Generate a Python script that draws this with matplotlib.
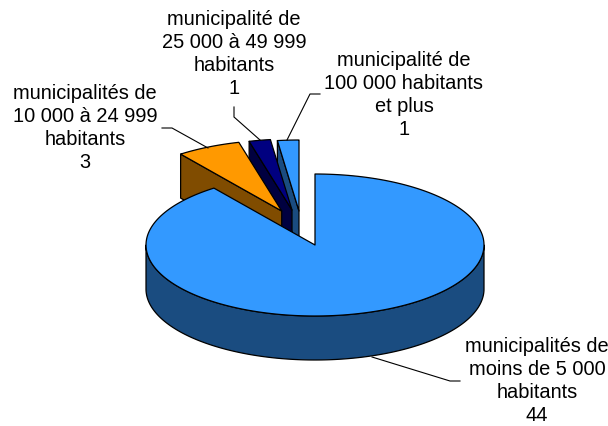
import numpy as np
import matplotlib
matplotlib.use("Agg")
import matplotlib.pyplot as plt
from matplotlib.patches import Polygon

categories = ["municipalités de\nmoins de 5 000\nhabitants",
              "municipalités de\n10 000 à 24 999\nhabitants",
              "municipalité de\n25 000 à 49 999\nhabitants",
              "municipalité de\n100 000 habitants\net plus"]
values = [44, 3, 1, 1]

top_colors = ["#3399FF", "#FF9900", "#000080", "#3399FF"]
side_colors = ["#1A4C80", "#804C00", "#000040", "#1A4C80"]
apexes = [(315, 245), (281.7, 211), (292, 210), (299, 211)]
label_pos = [(537, 381), (85, 128), (234, 54), (404, 95)]
leaders = [[(460, 381), (450, 381), (372, 357)],
           [(162, 128), (172, 128), (208, 148)],
           [(234, 107), (234, 117), (260, 140)],
           [(320, 94), (310, 94), (287, 140)]]

RX, RY, DEPTH = 169, 71, 44
EDGE = dict(edgecolor="black", linewidth=0.9, joinstyle="round")

fig = plt.figure(figsize=(6.08, 4.26), dpi=100)
ax = fig.add_axes([0, 0, 1, 1])
ax.set_xlim(0, 608)
ax.set_ylim(426, 0)
ax.axis("off")


def arc(apex, a0, a1, dy=0.0):
    t = np.radians(np.linspace(a0, a1, 200))
    return np.column_stack([apex[0] + RX * np.cos(t), apex[1] + dy - RY * np.sin(t)])


# angles: clockwise from 12 o'clock
fractions = np.array(values, dtype=float) / sum(values)
ends = 90 - 360 * np.cumsum(fractions)
starts = np.concatenate([[90], ends[:-1]])

# painter's order: back slices first, the large slice last
order = [3, 2, 1, 0]
for z, i in enumerate(order, start=2):
    apex = apexes[i]
    a0, a1 = starts[i], ends[i]
    if i == 0:
        # outer wall of the front half
        upper = arc(apex, -180, 0)
        lower = arc(apex, 0, -180, DEPTH)
        ax.add_patch(Polygon(np.vstack([upper, lower]), closed=True,
                             facecolor=side_colors[i], zorder=z, **EDGE))
    else:
        # left cut face, visible for the exploded slices
        p = arc(apex, a0, a0)[0]
        face = [p, apex, (apex[0], apex[1] + DEPTH), (p[0], p[1] + DEPTH)]
        ax.add_patch(Polygon(face, closed=True, facecolor=side_colors[i], zorder=z, **EDGE))
    top = np.vstack([[apex], arc(apex, a0, a1)])
    ax.add_patch(Polygon(top, closed=True, facecolor=top_colors[i], zorder=z, **EDGE))

for pts in leaders:
    xs, ys = zip(*pts)
    ax.plot(xs, ys, color="black", lw=0.8, zorder=10, solid_joinstyle="miter")

for cat, val, (x, y) in zip(categories, values, label_pos):
    ax.text(x, y, f"{cat}\n{val}", ha="center", va="center", ma="center",
            family="Liberation Sans", fontsize=14.4, color="black",
            linespacing=1.25, zorder=11)

fig.savefig("out.png", dpi=100, facecolor="white")
